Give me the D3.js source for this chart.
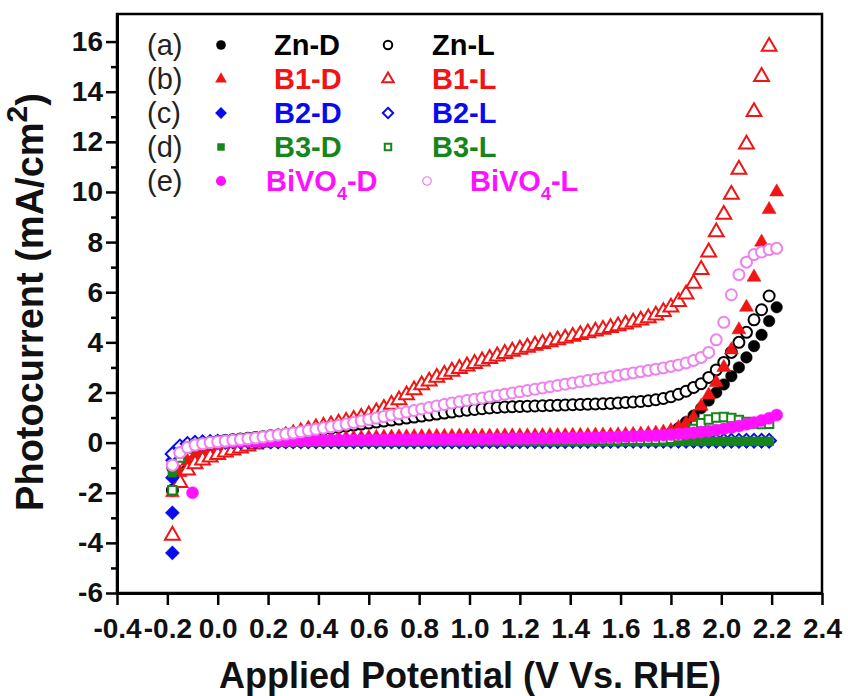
<!DOCTYPE html>
<html>
<head>
<meta charset="utf-8">
<script src="https://d3js.org/d3.v7.min.js"></script>
<style>
  body { margin: 0; background: #fff; }
  text { font-family: "Liberation Sans", Arial, sans-serif; }
</style>
</head>
<body>
<div id="chart"></div>
<script>
// scan points, V vs. RHE
var potential = [
  -0.18, -0.15, -0.12, -0.09, -0.06, -0.03, 0.00, 0.03, 0.06, 0.09,
  0.12, 0.15, 0.18, 0.21, 0.24, 0.27, 0.30, 0.33, 0.36, 0.39,
  0.42, 0.45, 0.48, 0.51, 0.54, 0.57, 0.60, 0.63, 0.66, 0.69,
  0.72, 0.75, 0.78, 0.81, 0.84, 0.87, 0.90, 0.93, 0.96, 0.99,
  1.02, 1.05, 1.08, 1.11, 1.14, 1.17, 1.20, 1.23, 1.26, 1.29,
  1.32, 1.35, 1.38, 1.41, 1.44, 1.47, 1.50, 1.53, 1.56, 1.59,
  1.62, 1.65, 1.68, 1.71, 1.74, 1.77, 1.80, 1.83, 1.86, 1.89,
  1.92, 1.95, 1.98, 2.01, 2.04, 2.07, 2.10, 2.13, 2.16, 2.19,
  2.22
];

// photocurrent, mA/cm2 (D = dark, L = light)
var znD = [
  -1.0, -0.45, -0.25, -0.15, -0.08, -0.04, -0.02, 0.0, 0.0, 0.01,
  0.01, 0.02, 0.02, 0.02, 0.03, 0.03, 0.03, 0.03, 0.04, 0.04,
  0.04, 0.04, 0.04, 0.05, 0.05, 0.05, 0.05, 0.05, 0.05, 0.05,
  0.05, 0.05, 0.05, 0.05, 0.05, 0.05, 0.05, 0.05, 0.05, 0.05,
  0.05, 0.05, 0.05, 0.05, 0.05, 0.06, 0.06, 0.06, 0.06, 0.06,
  0.06, 0.06, 0.06, 0.06, 0.07, 0.07, 0.07, 0.07, 0.07, 0.08,
  0.08, 0.09, 0.11, 0.13, 0.17, 0.25, 0.38, 0.58, 0.82, 1.08,
  1.37, 1.68, 2.0, 2.32, 2.65, 3.0, 3.4, 3.85, 4.3, 4.85,
  5.4
];
var znL = [
  -1.9, -0.8, -0.4, -0.2, -0.1, 0.0, 0.05, 0.08, 0.11, 0.14,
  0.17, 0.2, 0.23, 0.27, 0.3, 0.34, 0.38, 0.42, 0.46, 0.5,
  0.54, 0.58, 0.62, 0.66, 0.7, 0.74, 0.78, 0.82, 0.86, 0.9,
  0.94, 0.98, 1.02, 1.06, 1.1, 1.14, 1.18, 1.22, 1.26, 1.29,
  1.32, 1.35, 1.38, 1.4, 1.42, 1.43, 1.44, 1.45, 1.46, 1.47,
  1.48, 1.49, 1.5, 1.51, 1.52, 1.53, 1.54, 1.55, 1.56, 1.58,
  1.6, 1.62, 1.64, 1.67, 1.71, 1.76, 1.83, 1.93, 2.05, 2.2,
  2.35, 2.6, 2.9, 3.2, 3.6, 4.0, 4.4, 4.9, 5.3, 5.85,
  null
];
var b1D = [
  -2.0, -1.2, -0.75, -0.5, -0.35, -0.25, -0.18, -0.12, -0.08, -0.05,
  -0.02, 0.0, 0.02, 0.04, 0.06, 0.08, 0.1, 0.11, 0.12, 0.13,
  0.14, 0.15, 0.16, 0.17, 0.18, 0.19, 0.2, 0.21, 0.22, 0.22,
  0.23, 0.23, 0.24, 0.24, 0.25, 0.25, 0.25, 0.25, 0.26, 0.26,
  0.26, 0.26, 0.26, 0.26, 0.27, 0.27, 0.27, 0.27, 0.27, 0.28,
  0.28, 0.28, 0.28, 0.29, 0.29, 0.29, 0.3, 0.3, 0.3, 0.31,
  0.32, 0.33, 0.34, 0.36, 0.38, 0.42, 0.48, 0.6, 0.76, 1.0,
  1.45, 1.9, 2.4, 3.0, 3.7, 4.5, 5.4, 6.6, 8.0, 9.3,
  10.0
];
var b1L = [
  -3.7, -1.6, -1.1, -0.85, -0.7, -0.58, -0.48, -0.38, -0.3, -0.22,
  -0.14, -0.06, 0.02, 0.1, 0.18, 0.26, 0.34, 0.42, 0.5, 0.58,
  0.64, 0.7, 0.77, 0.84, 0.92, 1.0, 1.1, 1.22, 1.36, 1.52,
  1.7, 1.9, 2.1, 2.3, 2.45, 2.6, 2.72, 2.84, 2.95, 3.05,
  3.15, 3.25, 3.35, 3.45, 3.55, 3.64, 3.72, 3.8, 3.88, 3.95,
  4.02, 4.09, 4.16, 4.23, 4.3, 4.37, 4.44, 4.51, 4.58, 4.65,
  4.72, 4.8, 4.88, 4.97, 5.08, 5.22, 5.4, 5.62, 5.92, 6.35,
  6.9, 7.6, 8.4, 9.1, 9.9, 10.9, 11.9, 13.2, 14.6, 15.8,
  null
];
var b2D = [
  -0.7, -0.3, -0.15, -0.08, -0.04, -0.02, 0.0, 0.01, 0.02, 0.03,
  0.03, 0.03, 0.03, 0.03, 0.03, 0.04, 0.04, 0.04, 0.04, 0.04,
  0.04, 0.04, 0.04, 0.04, 0.04, 0.04, 0.05, 0.05, 0.05, 0.05,
  0.05, 0.05, 0.05, 0.05, 0.05, 0.05, 0.05, 0.05, 0.05, 0.05,
  0.05, 0.05, 0.05, 0.05, 0.05, 0.05, 0.05, 0.05, 0.05, 0.05,
  0.05, 0.05, 0.05, 0.05, 0.05, 0.05, 0.05, 0.05, 0.05, 0.05,
  0.05, 0.05, 0.05, 0.05, 0.05, 0.05, 0.05, 0.05, 0.05, 0.05,
  0.05, 0.05, 0.05, 0.05, 0.05, 0.05, 0.05, 0.05, 0.05, 0.05,
  null
];
var b2L = [
  -0.45, -0.15, -0.05, 0.0, 0.02, 0.03, 0.04, 0.04, 0.05, 0.05,
  0.05, 0.05, 0.05, 0.05, 0.05, 0.05, 0.05, 0.05, 0.05, 0.05,
  0.05, 0.05, 0.05, 0.05, 0.05, 0.05, 0.05, 0.05, 0.05, 0.05,
  0.05, 0.05, 0.05, 0.05, 0.05, 0.05, 0.05, 0.05, 0.05, 0.05,
  0.06, 0.06, 0.06, 0.06, 0.06, 0.06, 0.06, 0.06, 0.06, 0.06,
  0.06, 0.06, 0.06, 0.07, 0.07, 0.07, 0.07, 0.07, 0.07, 0.08,
  0.08, 0.08, 0.08, 0.08, 0.08, 0.08, 0.08, 0.08, 0.08, 0.08,
  0.08, 0.08, 0.08, 0.08, 0.08, 0.08, 0.08, 0.08, 0.08, 0.08,
  null
];
var b3D = [
  -1.2, -0.4, -0.15, -0.05, 0.0, 0.01, 0.02, 0.02, 0.03, 0.03,
  0.03, 0.03, 0.03, 0.03, 0.03, 0.03, 0.03, 0.04, 0.04, 0.04,
  0.04, 0.04, 0.04, 0.04, 0.04, 0.04, 0.04, 0.04, 0.04, 0.04,
  0.04, 0.04, 0.04, 0.04, 0.04, 0.04, 0.04, 0.04, 0.04, 0.04,
  0.04, 0.04, 0.04, 0.04, 0.04, 0.04, 0.04, 0.04, 0.04, 0.04,
  0.04, 0.04, 0.04, 0.04, 0.04, 0.04, 0.04, 0.04, 0.04, 0.04,
  0.04, 0.04, 0.04, 0.04, 0.04, 0.04, 0.04, 0.05, 0.05, 0.05,
  0.05, 0.05, 0.05, 0.05, 0.05, 0.05, 0.05, 0.05, 0.05, 0.05,
  null
];
var b3L = [
  -1.9, -0.6, -0.25, -0.1, -0.03, 0.0, 0.02, 0.03, 0.03, 0.04,
  0.04, 0.04, 0.04, 0.05, 0.05, 0.05, 0.05, 0.05, 0.05, 0.05,
  0.05, 0.05, 0.06, 0.06, 0.06, 0.06, 0.06, 0.06, 0.06, 0.06,
  0.06, 0.06, 0.06, 0.07, 0.07, 0.07, 0.07, 0.07, 0.07, 0.07,
  0.07, 0.07, 0.08, 0.08, 0.08, 0.08, 0.08, 0.08, 0.08, 0.08,
  0.09, 0.09, 0.09, 0.09, 0.09, 0.1, 0.1, 0.1, 0.1, 0.1,
  0.11, 0.11, 0.11, 0.12, 0.12, 0.13, 0.15, 0.22, 0.35, 0.55,
  0.78, 0.92, 1.0, 1.02, 0.98, 0.9, 0.82, 0.76, 0.74, 0.75,
  null
];
var bvD = [
  -0.9, -0.4, -0.2, -0.1, -0.05, -0.02, 0.0, 0.02, 0.03, 0.04,
  0.05, 0.05, 0.06, 0.06, 0.07, 0.07, 0.08, 0.08, 0.08, 0.09,
  0.09, 0.09, 0.1, 0.1, 0.1, 0.1, 0.11, 0.11, 0.11, 0.11,
  0.12, 0.12, 0.12, 0.12, 0.13, 0.13, 0.13, 0.13, 0.14, 0.14,
  0.14, 0.14, 0.15, 0.15, 0.15, 0.16, 0.16, 0.16, 0.17, 0.17,
  0.17, 0.18, 0.18, 0.19, 0.19, 0.2, 0.2, 0.21, 0.22, 0.23,
  0.24, 0.25, 0.26, 0.27, 0.28, 0.3, 0.32, 0.34, 0.36, 0.39,
  0.42, 0.46, 0.5, 0.55, 0.6, 0.66, 0.73, 0.8, 0.88, 0.97,
  1.1
];
var bvL = [
  -0.9, -0.4, -0.2, -0.1, -0.05, 0.0, 0.03, 0.06, 0.09, 0.12,
  0.15, 0.18, 0.22, 0.26, 0.3, 0.34, 0.38, 0.43, 0.48, 0.53,
  0.58, 0.63, 0.68, 0.74, 0.8, 0.86, 0.92, 0.98, 1.04, 1.1,
  1.16, 1.22, 1.28, 1.34, 1.4, 1.46, 1.52, 1.58, 1.63, 1.68,
  1.73, 1.78, 1.83, 1.88, 1.93, 1.98, 2.03, 2.08, 2.13, 2.18,
  2.23, 2.28, 2.33, 2.38, 2.43, 2.48, 2.53, 2.58, 2.63, 2.68,
  2.73, 2.78, 2.83, 2.88, 2.93, 2.98, 3.04, 3.1, 3.18, 3.28,
  3.4, 3.6, 4.1, 4.8, 5.9, 6.7, 7.2, 7.5, 7.6, 7.7,
  7.75
];

// extra points recorded at the very start of a scan
var b2DStart = [[-0.18, -4.4], [-0.18, -2.8], [-0.18, -1.4]];
var bvDStart = [[-0.10, -2.0]];

// axes
var xTicks = [-0.4, -0.2, 0.0, 0.2, 0.4, 0.6, 0.8, 1.0, 1.2, 1.4, 1.6, 1.8, 2.0, 2.2, 2.4];
var yTicks = [-6, -4, -2, 0, 2, 4, 6, 8, 10, 12, 14, 16];
var yMinor = [-5, -3, -1, 1, 3, 5, 7, 9, 11, 13, 15];

// legend
var legendTags = ["(a)", "(b)", "(c)", "(d)", "(e)"];
var darkLabels = ["Zn-D", "B1-D", "B2-D", "B3-D", "BiVO4-D"];
var lightLabels = ["Zn-L", "B1-L", "B2-L", "B3-L", "BiVO4-L"];

function init ()
{
    var w = 848;
    var h = 696;

    var x = d3.scaleLinear().domain([-0.4, 2.4]).range([117, 822]);
    var y = d3.scaleLinear().domain([-6, 17.1]).range([593, 14]);

    var svg = d3.select("#chart")
        .append("svg")
        .attr("width", w)
        .attr("height", h);

    var red = "#f01414", blue = "#0a0aee", green = "#17861a",
        magenta = "#ff10ff", violet = "#ee82ee";

    var diamond = {draw: function (ctx, size) {
        var r = Math.sqrt(size / 2);
        ctx.moveTo(0, -r); ctx.lineTo(r, 0); ctx.lineTo(0, r); ctx.lineTo(-r, 0); ctx.closePath();
    }};

    // one entry per plotted series, drawn in this order
    var series = [
        {vals: znD, type: d3.symbolCircle, size: 105, color: "#000", open: false},
        {vals: znL, type: d3.symbolCircle, size: 95, color: "#000", open: true},
        {vals: b1D, type: d3.symbolTriangle, size: 85, color: red, open: false},
        {vals: b1L, type: d3.symbolTriangle, size: 95, color: red, open: true},
        {vals: b2D, type: diamond, size: 100, color: blue, open: false, extra: b2DStart},
        {vals: b2L, type: diamond, size: 90, color: blue, open: true},
        {vals: b3D, type: d3.symbolSquare, size: 80, color: green, open: false},
        {vals: b3L, type: d3.symbolSquare, size: 70, color: green, open: true},
        {vals: bvD, type: d3.symbolCircle, size: 115, color: magenta, open: false, extra: bvDStart},
        {vals: bvL, type: d3.symbolCircle, size: 95, color: violet, open: true}
    ];

    var plot = svg.append("g");
    series.forEach(function (s) {
        var pts = [];
        potential.forEach(function (v, i) {
            if (s.vals[i] != null) pts.push([v, s.vals[i]]);
        });
        if (s.extra) pts = s.extra.concat(pts);

        plot.append("g").selectAll("path")
            .data(pts)
            .enter()
            .append("path")
            .attr("transform", function (d) { return "translate(" + x(d[0]) + "," + y(d[1]) + ")"; })
            .attr("d", d3.symbol().type(s.type).size(s.size))
            .attr("fill", s.open ? "#fff" : s.color)
            .attr("stroke", s.color)
            .attr("stroke-width", s.open ? 2 : 0.5);
    });

    // frame
    svg.append("rect")
        .attr("x", 117).attr("y", 14)
        .attr("width", 705).attr("height", 579)
        .attr("fill", "none")
        .attr("stroke", "#000")
        .attr("stroke-width", 2.5);

    svg.append("g")
        .attr("transform", "translate(0,593)")
        .call(d3.axisBottom(x).tickValues(xTicks).tickSize(12).tickSizeOuter(0).tickPadding(13)
            .tickFormat(function (d) { return d.toFixed(1); }));

    svg.append("g")
        .attr("transform", "translate(117,0)")
        .call(d3.axisLeft(y).tickValues(yTicks).tickSize(11).tickSizeOuter(0).tickPadding(3)
            .tickFormat(function (d) { return String(d); }));

    svg.append("g")
        .attr("transform", "translate(117,0)")
        .call(d3.axisLeft(y).tickValues(yMinor).tickSize(6).tickSizeOuter(0).tickFormat(""))
        .select(".domain").remove();

    svg.selectAll(".domain").attr("stroke-width", 3);
    svg.selectAll(".tick line").attr("stroke-width", 2.5);
    svg.selectAll(".tick text")
        .attr("font-family", "'Liberation Sans', Arial, sans-serif")
        .attr("font-size", 28)
        .attr("font-weight", "bold")
        .attr("fill", "#111");

    // axis titles
    svg.append("text")
        .attr("x", 470).attr("y", 688)
        .attr("text-anchor", "middle")
        .attr("font-size", 36)
        .attr("font-weight", "bold")
        .attr("fill", "#111")
        .text("Applied Potential (V Vs. RHE)");

    var yt = svg.append("text")
        .attr("transform", "translate(43,302) rotate(-90)")
        .attr("text-anchor", "middle")
        .attr("font-size", 38)
        .attr("font-weight", "bold")
        .attr("fill", "#111");
    yt.append("tspan").text("Photocurrent (mA/cm");
    yt.append("tspan").attr("dy", -16).attr("font-size", 30).text("2");
    yt.append("tspan").attr("dy", 16).text(")");

    // legend
    var rowY = [45, 79, 113, 147, 181];
    var legend = svg.append("g");
    function label (txt, lx, ly, color) {
        var t = legend.append("text")
            .attr("x", lx).attr("y", ly + 10)
            .attr("font-size", 29)
            .attr("font-weight", "bold")
            .attr("fill", color);
        if (txt.indexOf("BiVO4") === 0) {
            t.append("tspan").text("BiVO");
            t.append("tspan").attr("dy", 9).attr("font-size", 18).text("4");
            t.append("tspan").attr("dy", -9).text(txt.slice(5));
        } else {
            t.text(txt);
        }
    }
    legendTags.forEach(function (tag, i) {
        var dark = series[i * 2], light = series[i * 2 + 1];
        var last = i === 4;
        legend.append("text")
            .attr("x", 147).attr("y", rowY[i] + 10)
            .attr("font-size", 29)
            .attr("fill", "#222")
            .text(tag);
        legend.append("path")
            .attr("transform", "translate(221," + rowY[i] + ")")
            .attr("d", d3.symbol().type(dark.type).size(dark.size * 0.7))
            .attr("fill", dark.color);
        label(darkLabels[i], last ? 266 : 274, rowY[i], last ? magenta : dark.color);
        legend.append("path")
            .attr("transform", "translate(" + (last ? 427 : 388) + "," + rowY[i] + ")")
            .attr("d", d3.symbol().type(light.type).size(light.size * 0.6))
            .attr("fill", "#fff")
            .attr("stroke", light.color)
            .attr("stroke-width", last ? 1.2 : 2);
        label(lightLabels[i], last ? 470 : 432, rowY[i], last ? magenta : light.color);
    });
}

window.onload = init;
</script>
</body>
</html>
